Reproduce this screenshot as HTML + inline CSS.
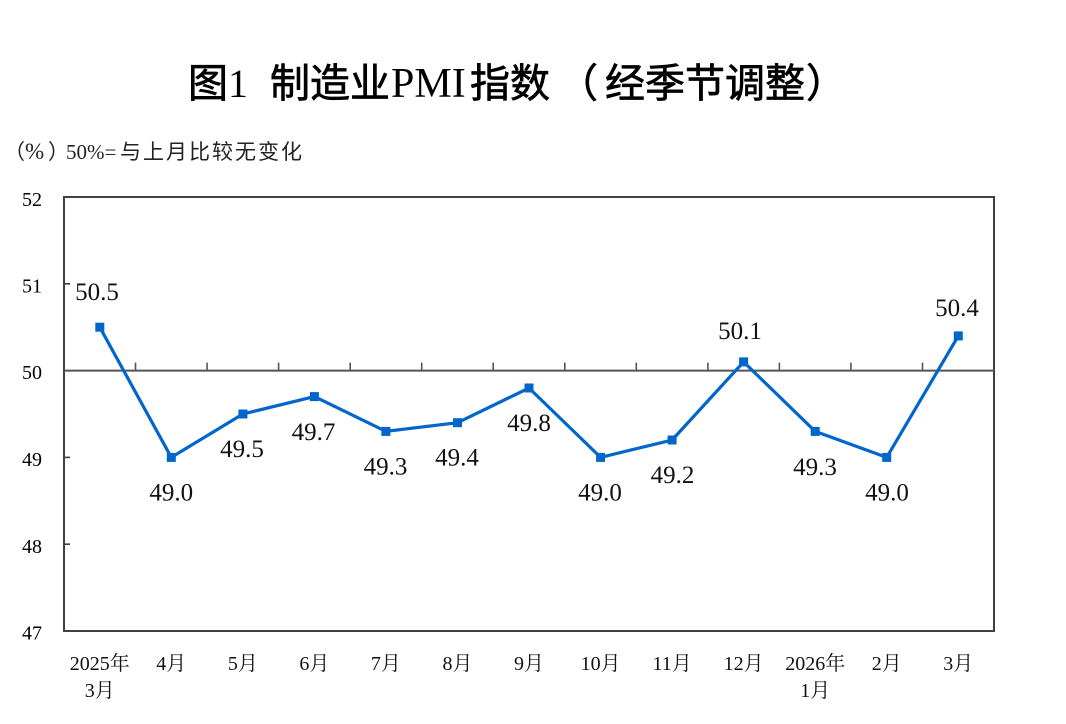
<!DOCTYPE html>
<html>
<head>
<meta charset="utf-8">
<style>
  html,body{margin:0;padding:0;background:#fff;}
  svg{display:block;}
  .cjk{font-family:"Noto Sans CJK SC","WenQuanYi Zen Hei",sans-serif;}
  .ser{font-family:"Liberation Serif","Noto Serif CJK SC",serif;}
</style>
</head>
<body>
<svg width="1066" height="724" viewBox="0 0 1066 724" xmlns="http://www.w3.org/2000/svg">
  <rect x="0" y="0" width="1066" height="724" fill="#fff"/>

  <!-- Title -->
  <text y="97" font-size="40" fill="#000">
    <tspan class="cjk" x="188" stroke="#000" stroke-width="0.7">图</tspan>
    <tspan class="ser" x="228">1</tspan>
    <tspan class="cjk" x="270" stroke="#000" stroke-width="0.7">制造业</tspan>
    <tspan class="ser" x="391" font-size="42">PMI</tspan>
    <tspan class="cjk" x="470" stroke="#000" stroke-width="0.7">指数</tspan>
    <tspan class="cjk" x="558" stroke="#000" stroke-width="0.7">（</tspan>
    <tspan class="cjk" x="605" stroke="#000" stroke-width="0.7">经季节调整</tspan>
    <tspan class="cjk" x="806" stroke="#000" stroke-width="0.7">）</tspan>
  </text>

  <!-- Subtitle -->
  <text y="159" font-size="21" fill="#222">
    <tspan class="cjk" x="4">（</tspan>
    <tspan class="ser" x="25" font-size="23">%</tspan>
    <tspan class="cjk" x="48">）</tspan>
    <tspan class="ser" x="66">50%=</tspan>
    <tspan class="cjk" x="120" textLength="182" lengthAdjust="spacing">与上月比较无变化</tspan>
  </text>

  <!-- Y axis labels -->
  <g class="ser" font-size="20" fill="#000" text-anchor="end">
    <text x="42" y="206">52</text>
    <text x="42" y="292.5">51</text>
    <text x="42" y="379">50</text>
    <text x="42" y="466">49</text>
    <text x="42" y="553">48</text>
    <text x="42" y="639.5">47</text>
  </g>

  <!-- Plot frame -->
  <rect x="64" y="197" width="930" height="434" fill="none" stroke="#404040" stroke-width="2"/>

  <!-- Y ticks (inward) -->
  <g stroke="#404040" stroke-width="1.6">
    <line x1="64" y1="283.8" x2="70" y2="283.8"/>
    <line x1="64" y1="457.4" x2="70" y2="457.4"/>
    <line x1="64" y1="544.2" x2="70" y2="544.2"/>
  </g>

  <!-- 50 baseline -->
  <line x1="64" y1="370.6" x2="994" y2="370.6" stroke="#555" stroke-width="2"/>
  <!-- category ticks on 50 line -->
  <g stroke="#555" stroke-width="1.6">
    <line x1="135.5" y1="362.6" x2="135.5" y2="370.6"/>
    <line x1="207.1" y1="362.6" x2="207.1" y2="370.6"/>
    <line x1="278.6" y1="362.6" x2="278.6" y2="370.6"/>
    <line x1="350.2" y1="362.6" x2="350.2" y2="370.6"/>
    <line x1="421.7" y1="362.6" x2="421.7" y2="370.6"/>
    <line x1="493.2" y1="362.6" x2="493.2" y2="370.6"/>
    <line x1="564.8" y1="362.6" x2="564.8" y2="370.6"/>
    <line x1="636.3" y1="362.6" x2="636.3" y2="370.6"/>
    <line x1="707.9" y1="362.6" x2="707.9" y2="370.6"/>
    <line x1="779.4" y1="362.6" x2="779.4" y2="370.6"/>
    <line x1="850.9" y1="362.6" x2="850.9" y2="370.6"/>
    <line x1="922.5" y1="362.6" x2="922.5" y2="370.6"/>
  </g>

  <!-- Series line -->
  <polyline fill="none" stroke="#0066CC" stroke-width="3.2" stroke-linejoin="miter"
    points="99.8,327.2 171.3,457.4 242.9,414.0 314.4,396.6 385.9,431.4 457.5,422.7 529.0,388.0 600.6,457.4 672.1,440.0 743.6,361.9 815.2,431.4 886.7,457.4 958.3,335.9"/>

  <!-- Markers -->
  <g fill="#0066CC">
    <rect x="95.3" y="322.7" width="9" height="9"/>
    <rect x="166.8" y="452.9" width="9" height="9"/>
    <rect x="238.4" y="409.5" width="9" height="9"/>
    <rect x="309.9" y="392.1" width="9" height="9"/>
    <rect x="381.4" y="426.9" width="9" height="9"/>
    <rect x="453.0" y="418.2" width="9" height="9"/>
    <rect x="524.5" y="383.5" width="9" height="9"/>
    <rect x="596.1" y="452.9" width="9" height="9"/>
    <rect x="667.6" y="435.5" width="9" height="9"/>
    <rect x="739.1" y="357.4" width="9" height="9"/>
    <rect x="810.7" y="426.9" width="9" height="9"/>
    <rect x="882.2" y="452.9" width="9" height="9"/>
    <rect x="953.8" y="331.4" width="9" height="9"/>
  </g>

  <!-- Data labels -->
  <g class="ser" font-size="25" fill="#111" text-anchor="middle">
    <text x="97" y="300">50.5</text>
    <text x="171.3" y="500.5">49.0</text>
    <text x="242" y="457">49.5</text>
    <text x="313.5" y="440">49.7</text>
    <text x="385.5" y="474.5">49.3</text>
    <text x="457" y="465.5">49.4</text>
    <text x="529" y="431">49.8</text>
    <text x="600" y="500.5">49.0</text>
    <text x="672.5" y="483">49.2</text>
    <text x="740" y="339">50.1</text>
    <text x="815" y="475">49.3</text>
    <text x="887" y="500.5">49.0</text>
    <text x="957" y="316">50.4</text>
  </g>

  <!-- X axis labels -->
  <g class="ser" font-size="20" fill="#111" text-anchor="middle">
    <text x="99.8" y="670">2025年</text>
    <text x="99.8" y="697">3月</text>
    <text x="171.3" y="670">4月</text>
    <text x="242.9" y="670">5月</text>
    <text x="314.4" y="670">6月</text>
    <text x="385.9" y="670">7月</text>
    <text x="457.5" y="670">8月</text>
    <text x="529.0" y="670">9月</text>
    <text x="600.6" y="670">10月</text>
    <text x="672.1" y="670">11月</text>
    <text x="743.6" y="670">12月</text>
    <text x="815.2" y="670">2026年</text>
    <text x="815.2" y="697">1月</text>
    <text x="886.7" y="670">2月</text>
    <text x="958.3" y="670">3月</text>
  </g>
</svg>
</body>
</html>
